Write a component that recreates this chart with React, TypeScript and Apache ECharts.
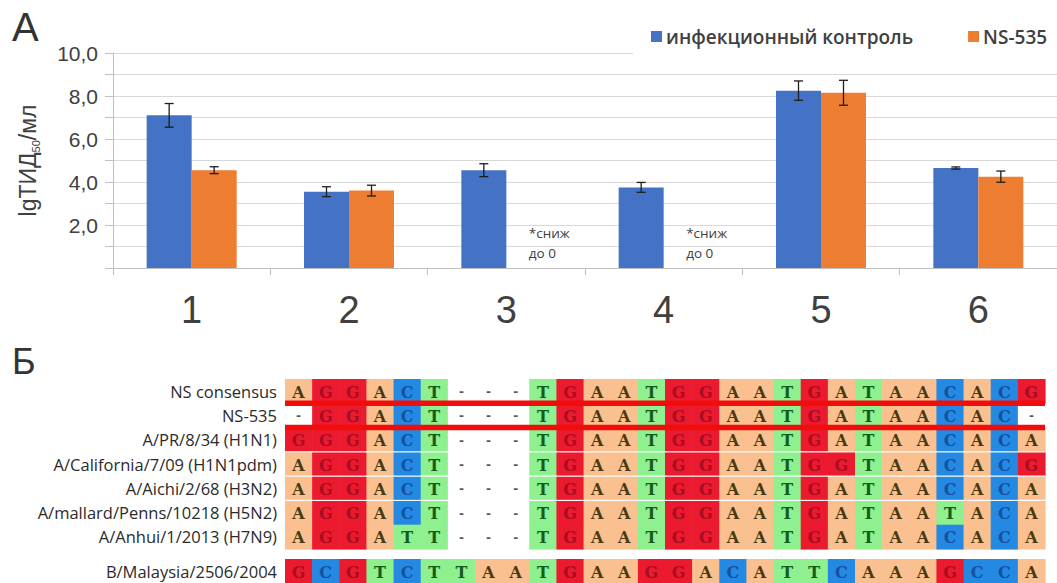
import React, { useEffect, useRef } from 'react';
import * as echarts from 'echarts';

// Panel А: virus titres per strain group
const groups = ['1', '2', '3', '4', '5', '6'];
const controlName = 'инфекционный контроль';
const ns535Name = 'NS-535';
const controlValues = [7.1, 3.55, 4.55, 3.75, 8.25, 4.65];
const controlErrors = [0.55, 0.23, 0.3, 0.23, 0.45, 0.05];
const ns535Values = [4.55, 3.6, 0, 0, 8.15, 4.25];
const ns535Errors: (number | null)[] = [0.16, 0.25, null, null, 0.58, 0.26];
const reducedNote = '*сниж\nдо 0';

// Panel Б: NS alignment
const strainNames = [
  'NS consensus',
  'NS-535',
  'A/PR/8/34 (H1N1)',
  'A/California/7/09 (H1N1pdm)',
  'A/Aichi/2/68 (H3N2)',
  'A/mallard/Penns/10218 (H5N2)',
  'A/Anhui/1/2013 (H7N9)',
];
const strainSequences = [
  'AGGACT---TGAATGGAATGATAACACG',
  '-GGACT---TGAATGGAATGATAACAC-',
  'GGGACT---TGAATGGAATGATAACACA',
  'AGGACT---TGAATGGAATGGTAACACG',
  'AGGACT---TGAATGGAATGATAACACA',
  'AGGACT---TGAATGGAATGATAATACA',
  'AGGATT---TGAATGGAATGATAACACA',
];
const outgroupNames = ['B/Malaysia/2506/2004'];
const outgroupSequences = ['GCGTCTTAATGAAGGACATTCAAAGCCA'];
const highlightedStrain = 'NS-535';

// styling
const BLUE = '#4472C4';
const ORANGE = '#ED7D31';
const BAR_W = 45;
const GRID_LINE = '#d9d9d9';
const AXIS_LINE = '#bfbfbf';
const TEXT = '#404040';
const baseFill: Record<string, string> = {
  A: '#FAC08F',
  G: '#EC1A2E',
  C: '#2389E2',
  T: '#8EF08E',
  '-': '#FFFFFF',
};
const baseInk: Record<string, string> = {
  A: '#4a3a12',
  G: '#a80d22',
  C: '#17509e',
  T: '#145c1c',
  '-': '#555555',
};
const ruledRows = [3, 4, 5];

const alignmentColumns = strainSequences[0].split('').map((_, i) => String(i + 1));

function buildCells(seqs: string[]) {
  const data: number[][] = [];
  const letters: string[] = [];
  seqs.forEach((seq, r) => {
    seq.split('').forEach((b, c) => {
      data.push([c, r]);
      letters.push(b);
    });
  });
  return { data, letters };
}

const makeCellRender = (letters: string[], rules: number[]) => (params: any, api: any) => {
  const col = api.value(0);
  const row = api.value(1);
  const c = api.coord([col, row]);
  const s = api.size([1, 1]);
  const b = letters[params.dataIndex];
  const x0 = c[0] - s[0] / 2;
  const y0 = c[1] - s[1] / 2;
  const children: any[] = [
    {
      type: 'rect',
      shape: { x: x0, y: y0, width: s[0] + 0.6, height: s[1] + 0.6 },
      style: { fill: baseFill[b] },
    },
    {
      type: 'text',
      x: c[0],
      y: c[1] + 1,
      style: {
        text: b,
        fill: baseInk[b],
        font: b === '-' ? 'bold 12px "DejaVu Serif"' : 'bold 16px "DejaVu Serif"',
        align: 'center',
        verticalAlign: 'middle',
      },
    },
  ];
  if (rules.indexOf(row) >= 0) {
    children.push({
      type: 'rect',
      shape: { x: x0, y: y0 - 0.6, width: s[0] + 0.6, height: 1.2 },
      style: { fill: '#ffffff' },
    });
  }
  return { type: 'group', children };
};

const makeErrorRender = (dx: number) => (params: any, api: any) => {
  const i = api.value(0);
  const v = api.value(1);
  const e = api.value(2);
  const top = api.coord([i, v + e]);
  const bot = api.coord([i, v - e]);
  const x = top[0] + dx;
  const cap = 4.5;
  const st = { stroke: '#1e1e1e', lineWidth: 1.3 };
  return {
    type: 'group',
    children: [
      { type: 'line', shape: { x1: x, y1: top[1], x2: x, y2: bot[1] }, style: st },
      { type: 'line', shape: { x1: x - cap, y1: top[1], x2: x + cap, y2: top[1] }, style: st },
      { type: 'line', shape: { x1: x - cap, y1: bot[1], x2: x + cap, y2: bot[1] }, style: st },
    ],
  };
};

function buildOption() {
  const main = buildCells(strainSequences);
  const outgroup = buildCells(outgroupSequences);
  const hlRow = strainNames.indexOf(highlightedStrain);

  const controlErrData = controlValues.map((v, i) => [i, v, controlErrors[i]]);
  const nsErrData = ns535Values
    .map((v, i) => [i, v, ns535Errors[i]])
    .filter((d) => d[2] != null);

  const nsBarData = ns535Values.map((v, i) =>
    ns535Errors[i] == null
      ? {
          value: v,
          label: {
            show: true,
            position: 'top',
            distance: 5,
            align: 'left',
            formatter: reducedNote,
            fontSize: 13.5,
            lineHeight: 20,
            color: TEXT,
            fontFamily: 'Open Sans',
          },
        }
      : v
  );

  const valueLabel = (v: number) =>
    v > 0 && v % 2 === 0 ? v.toFixed(1).replace('.', ',') : '';

  const alignLabel = { fontSize: 16.5, color: '#2b2b2b', fontFamily: 'Open Sans', margin: 8 };

  return {
    animation: false,
    backgroundColor: '#ffffff',
    legend: {
      data: [controlName, ns535Name],
      orient: 'horizontal',
      left: 633,
      top: 19,
      width: 460,
      padding: [8, 10, 10, 18],
      backgroundColor: '#ffffff',
      icon: 'rect',
      itemWidth: 11,
      itemHeight: 11,
      itemGap: 55,
      textStyle: {
        fontSize: 19,
        fontWeight: 600,
        color: TEXT,
        fontFamily: 'Open Sans',
        padding: [0, 0, 0, -1],
      },
    },
    graphic: [
      {
        type: 'text',
        x: 12,
        y: 27,
        style: { text: 'А', font: '40px "Liberation Sans"', fill: '#333', verticalAlign: 'middle' },
      },
      {
        type: 'text',
        x: 12,
        y: 361,
        style: { text: 'Б', font: '36px "Liberation Sans"', fill: '#333', verticalAlign: 'middle' },
      },
    ],
    grid: [
      { left: 113, top: 53, width: 948, height: 215 },
      { left: 285, top: 379, width: 760, height: 170 },
      { left: 285, top: 559, width: 760, height: 24 },
    ],
    xAxis: [
      {
        type: 'category',
        gridIndex: 0,
        data: groups,
        axisLine: { lineStyle: { color: AXIS_LINE } },
        axisTick: { show: true, length: 7, lineStyle: { color: AXIS_LINE } },
        axisLabel: { fontSize: 38, color: TEXT, fontFamily: 'Liberation Sans', margin: 23 },
      },
      { type: 'category', gridIndex: 1, data: alignmentColumns, show: false },
      { type: 'category', gridIndex: 2, data: alignmentColumns, show: false },
    ],
    yAxis: [
      {
        type: 'value',
        gridIndex: 0,
        min: 0,
        max: 10,
        interval: 1,
        name: '{n|lgТИД}{s|50}{n|/мл}',
        nameLocation: 'middle',
        nameGap: 72,
        nameRotate: 90,
        nameTextStyle: {
          rich: {
            n: { fontSize: 23, color: TEXT, fontFamily: 'Liberation Sans', lineHeight: 26 },
            s: { fontSize: 11, color: TEXT, fontFamily: 'Liberation Sans', verticalAlign: 'bottom', lineHeight: 26 },
          },
        },
        axisLine: { show: true, lineStyle: { color: AXIS_LINE } },
        axisTick: { show: true, length: 8, lineStyle: { color: AXIS_LINE } },
        splitLine: { lineStyle: { color: GRID_LINE } },
        axisLabel: {
          formatter: valueLabel,
          fontSize: 21,
          color: TEXT,
          fontFamily: 'Liberation Sans',
          margin: 15,
        },
      },
      {
        type: 'category',
        gridIndex: 1,
        data: strainNames,
        inverse: true,
        axisLine: { show: false },
        axisTick: { show: false },
        axisLabel: alignLabel,
      },
      {
        type: 'category',
        gridIndex: 2,
        data: outgroupNames,
        axisLine: { show: false },
        axisTick: { show: false },
        axisLabel: alignLabel,
      },
    ],
    series: [
      {
        name: controlName,
        type: 'bar',
        xAxisIndex: 0,
        yAxisIndex: 0,
        data: controlValues,
        barWidth: BAR_W,
        barGap: '0%',
        itemStyle: { color: BLUE },
      },
      {
        name: ns535Name,
        type: 'bar',
        xAxisIndex: 0,
        yAxisIndex: 0,
        data: nsBarData,
        barWidth: BAR_W,
        barGap: '0%',
        itemStyle: { color: ORANGE },
      },
      {
        name: 'control-error',
        type: 'custom',
        xAxisIndex: 0,
        yAxisIndex: 0,
        data: controlErrData,
        renderItem: makeErrorRender(-BAR_W / 2),
        z: 5,
      },
      {
        name: 'ns535-error',
        type: 'custom',
        xAxisIndex: 0,
        yAxisIndex: 0,
        data: nsErrData,
        renderItem: makeErrorRender(BAR_W / 2),
        z: 5,
      },
      {
        name: 'alignment',
        type: 'custom',
        xAxisIndex: 1,
        yAxisIndex: 1,
        data: main.data,
        renderItem: makeCellRender(main.letters, ruledRows),
        z: 2,
      },
      {
        name: 'highlight',
        type: 'custom',
        xAxisIndex: 1,
        yAxisIndex: 1,
        encode: { x: [0, 1], y: 2 },
        data: [[0, alignmentColumns.length - 1, hlRow]],
        renderItem: (params: any, api: any) => {
          const first = api.coord([api.value(0), api.value(2)]);
          const last = api.coord([api.value(1), api.value(2)]);
          const s = api.size([1, 1]);
          const x1 = first[0] - s[0] / 2;
          const x2 = last[0] + s[0] / 2;
          const yTop = first[1] - s[1] / 2;
          const yBot = first[1] + s[1] / 2;
          const t = 5.5;
          const st = { fill: '#F20D0D' };
          return {
            type: 'group',
            children: [
              { type: 'rect', shape: { x: x1, y: yTop - t / 2, width: x2 - x1, height: t }, style: st },
              { type: 'rect', shape: { x: x1, y: yBot - t / 2, width: x2 - x1, height: t }, style: st },
            ],
          };
        },
        z: 3,
      },
      {
        name: 'outgroup',
        type: 'custom',
        xAxisIndex: 2,
        yAxisIndex: 2,
        data: outgroup.data,
        renderItem: makeCellRender(outgroup.letters, []),
        z: 2,
      },
    ],
  };
}

export default function App() {
  const ref = useRef<HTMLDivElement>(null);
  useEffect(() => {
    if (!ref.current) return;
    const chart = echarts.init(ref.current, null, { renderer: 'svg' });
    chart.setOption(buildOption() as any);
    return () => chart.dispose();
  }, []);
  return (
    <div
      ref={ref}
      style={{ position: 'absolute', left: 0, top: 0, width: 1057, height: 583, background: '#fff' }}
    />
  );
}
